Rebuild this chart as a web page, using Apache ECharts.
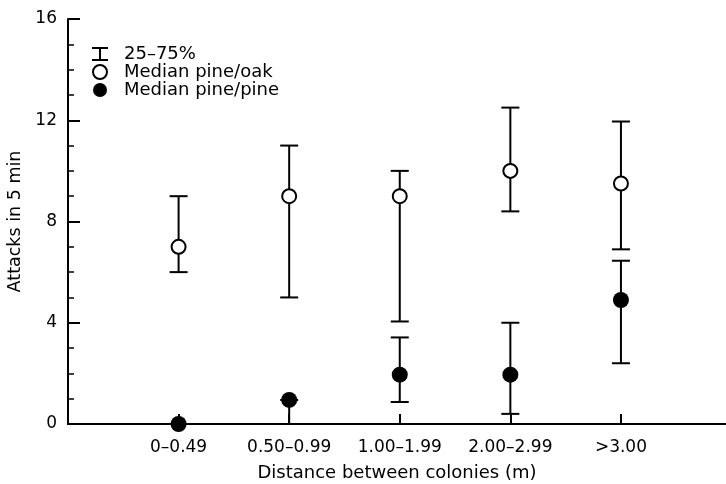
<!DOCTYPE html>
<html>
<head>
<meta charset="utf-8">
<script src="https://cdn.jsdelivr.net/npm/echarts@6/dist/echarts.min.js"></script>
<style>
html,body{margin:0;padding:0;background:#fff}
#main{width:726px;height:484px}
</style>
</head>
<body>
<div id="main"></div>
<script>
// distance classes and the values
var categories = ['0–0.49', '0.50–0.99', '1.00–1.99', '2.00–2.99', '>3.00'];
var oakMedian = [7, 9, 9, 10, 9.5];
var oakQ1 = [6, 5, 4.05, 8.4, 6.9];
var oakQ3 = [9, 11, 10, 12.5, 11.95];
var pineMedian = [0, 0.95, 1.95, 1.95, 4.9];
var pineQ1 = [0, 0, 0.87, 0.4, 2.4];
var pineQ3 = [0, 0.95, 3.42, 4, 6.45];
var yTicks = [0, 4, 8, 12, 16];

var barName = '25–75%';
var oakName = 'Median pine/oak';
var pineName = 'Median pine/pine';

function rangeData(lo, hi){
    var out = [];
    for (var i = 0; i < categories.length; i++) {
        out.push([i + 1, lo[i], hi[i]]);
    }
    return out;
}
function pointData(med){
    var out = [];
    for (var i = 0; i < categories.length; i++) {
        out.push([i + 1, med[i]]);
    }
    return out;
}

// vertical bar with a cap at each end
function renderBar(params, api){
    var x = api.value(0);
    var pLo = api.coord([x, api.value(1)]);
    var pHi = api.coord([x, api.value(2)]);
    var hw = 9;
    var st = {stroke: '#000', lineWidth: 2};
    return {
        type: 'group',
        children: [
            {type: 'line', shape: {x1: pLo[0], y1: pLo[1], x2: pHi[0], y2: pHi[1]}, style: st},
            {type: 'line', shape: {x1: pLo[0] - hw, y1: pLo[1], x2: pLo[0] + hw, y2: pLo[1]}, style: st},
            {type: 'line', shape: {x1: pHi[0] - hw, y1: pHi[1], x2: pHi[0] + hw, y2: pHi[1]}, style: st}
        ]
    };
}

var font = 'DejaVu Sans';
var myChart = echarts.init(document.getElementById('main'));
myChart.setOption({
    animation: false,
    backgroundColor: '#fff',
    grid: {left: 68, right: 0, top: 19, bottom: 60, outerBoundsMode: 'none'},
    legend: {
        orient: 'vertical',
        left: 87,
        top: 40,
        itemWidth: 16,
        itemHeight: 14,
        itemGap: 0,
        selectedMode: false,
        textStyle: {fontFamily: font, fontSize: 18, color: '#000', padding: [0, 0, 0, 11]},
        data: [
            {name: barName, icon: 'path://M0,0H16V2H9V12H16V14H0V12H7V2H0Z'},
            {name: oakName},
            {name: pineName}
        ]
    },
    xAxis: {
        type: 'value',
        min: 0,
        max: 5.95,
        interval: 1,
        splitLine: {show: false},
        axisLine: {lineStyle: {color: '#000', width: 2}},
        axisTick: {inside: true, length: 10, lineStyle: {color: '#000', width: 2}},
        axisLabel: {
            color: '#000', fontFamily: font, fontSize: 17, margin: 15,
            showMaxLabel: false,
            formatter: function(v){ return categories[v - 1] || ''; }
        },
        name: 'Distance between colonies (m)',
        nameLocation: 'middle',
        nameGap: 40,
        nameTextStyle: {color: '#000', fontFamily: font, fontSize: 18}
    },
    yAxis: {
        type: 'value',
        min: yTicks[0],
        max: yTicks[yTicks.length - 1],
        interval: yTicks[1] - yTicks[0],
        splitLine: {show: false},
        axisLine: {show: true, lineStyle: {color: '#000', width: 2}},
        axisTick: {show: true, inside: true, length: 12, lineStyle: {color: '#000', width: 2}},
        minorTick: {show: true, splitNumber: 4, length: 6, lineStyle: {color: '#000', width: 1.5}},
        axisLabel: {color: '#000', fontFamily: font, fontSize: 17, margin: 11},
        name: 'Attacks in 5 min',
        nameLocation: 'middle',
        nameRotate: 90,
        nameGap: 38,
        nameTextStyle: {color: '#000', fontFamily: font, fontSize: 17.5}
    },
    series: [
        {
            name: barName, type: 'custom', renderItem: renderBar,
            itemStyle: {color: '#000'},
            encode: {x: 0, y: [1, 2]},
            data: rangeData(oakQ1, oakQ3), z: 2
        },
        {
            name: barName, type: 'custom', renderItem: renderBar,
            itemStyle: {color: '#000'},
            encode: {x: 0, y: [1, 2]},
            data: rangeData(pineQ1, pineQ3), z: 2
        },
        {
            name: oakName, type: 'scatter', symbol: 'circle', symbolSize: 14,
            itemStyle: {color: '#fff', borderColor: '#000', borderWidth: 2, opacity: 1},
            data: pointData(oakMedian), z: 5
        },
        {
            name: pineName, type: 'scatter', symbol: 'circle', symbolSize: 16,
            itemStyle: {color: '#000', opacity: 1},
            data: pointData(pineMedian), z: 5
        }
    ]
});
</script>
</body>
</html>
